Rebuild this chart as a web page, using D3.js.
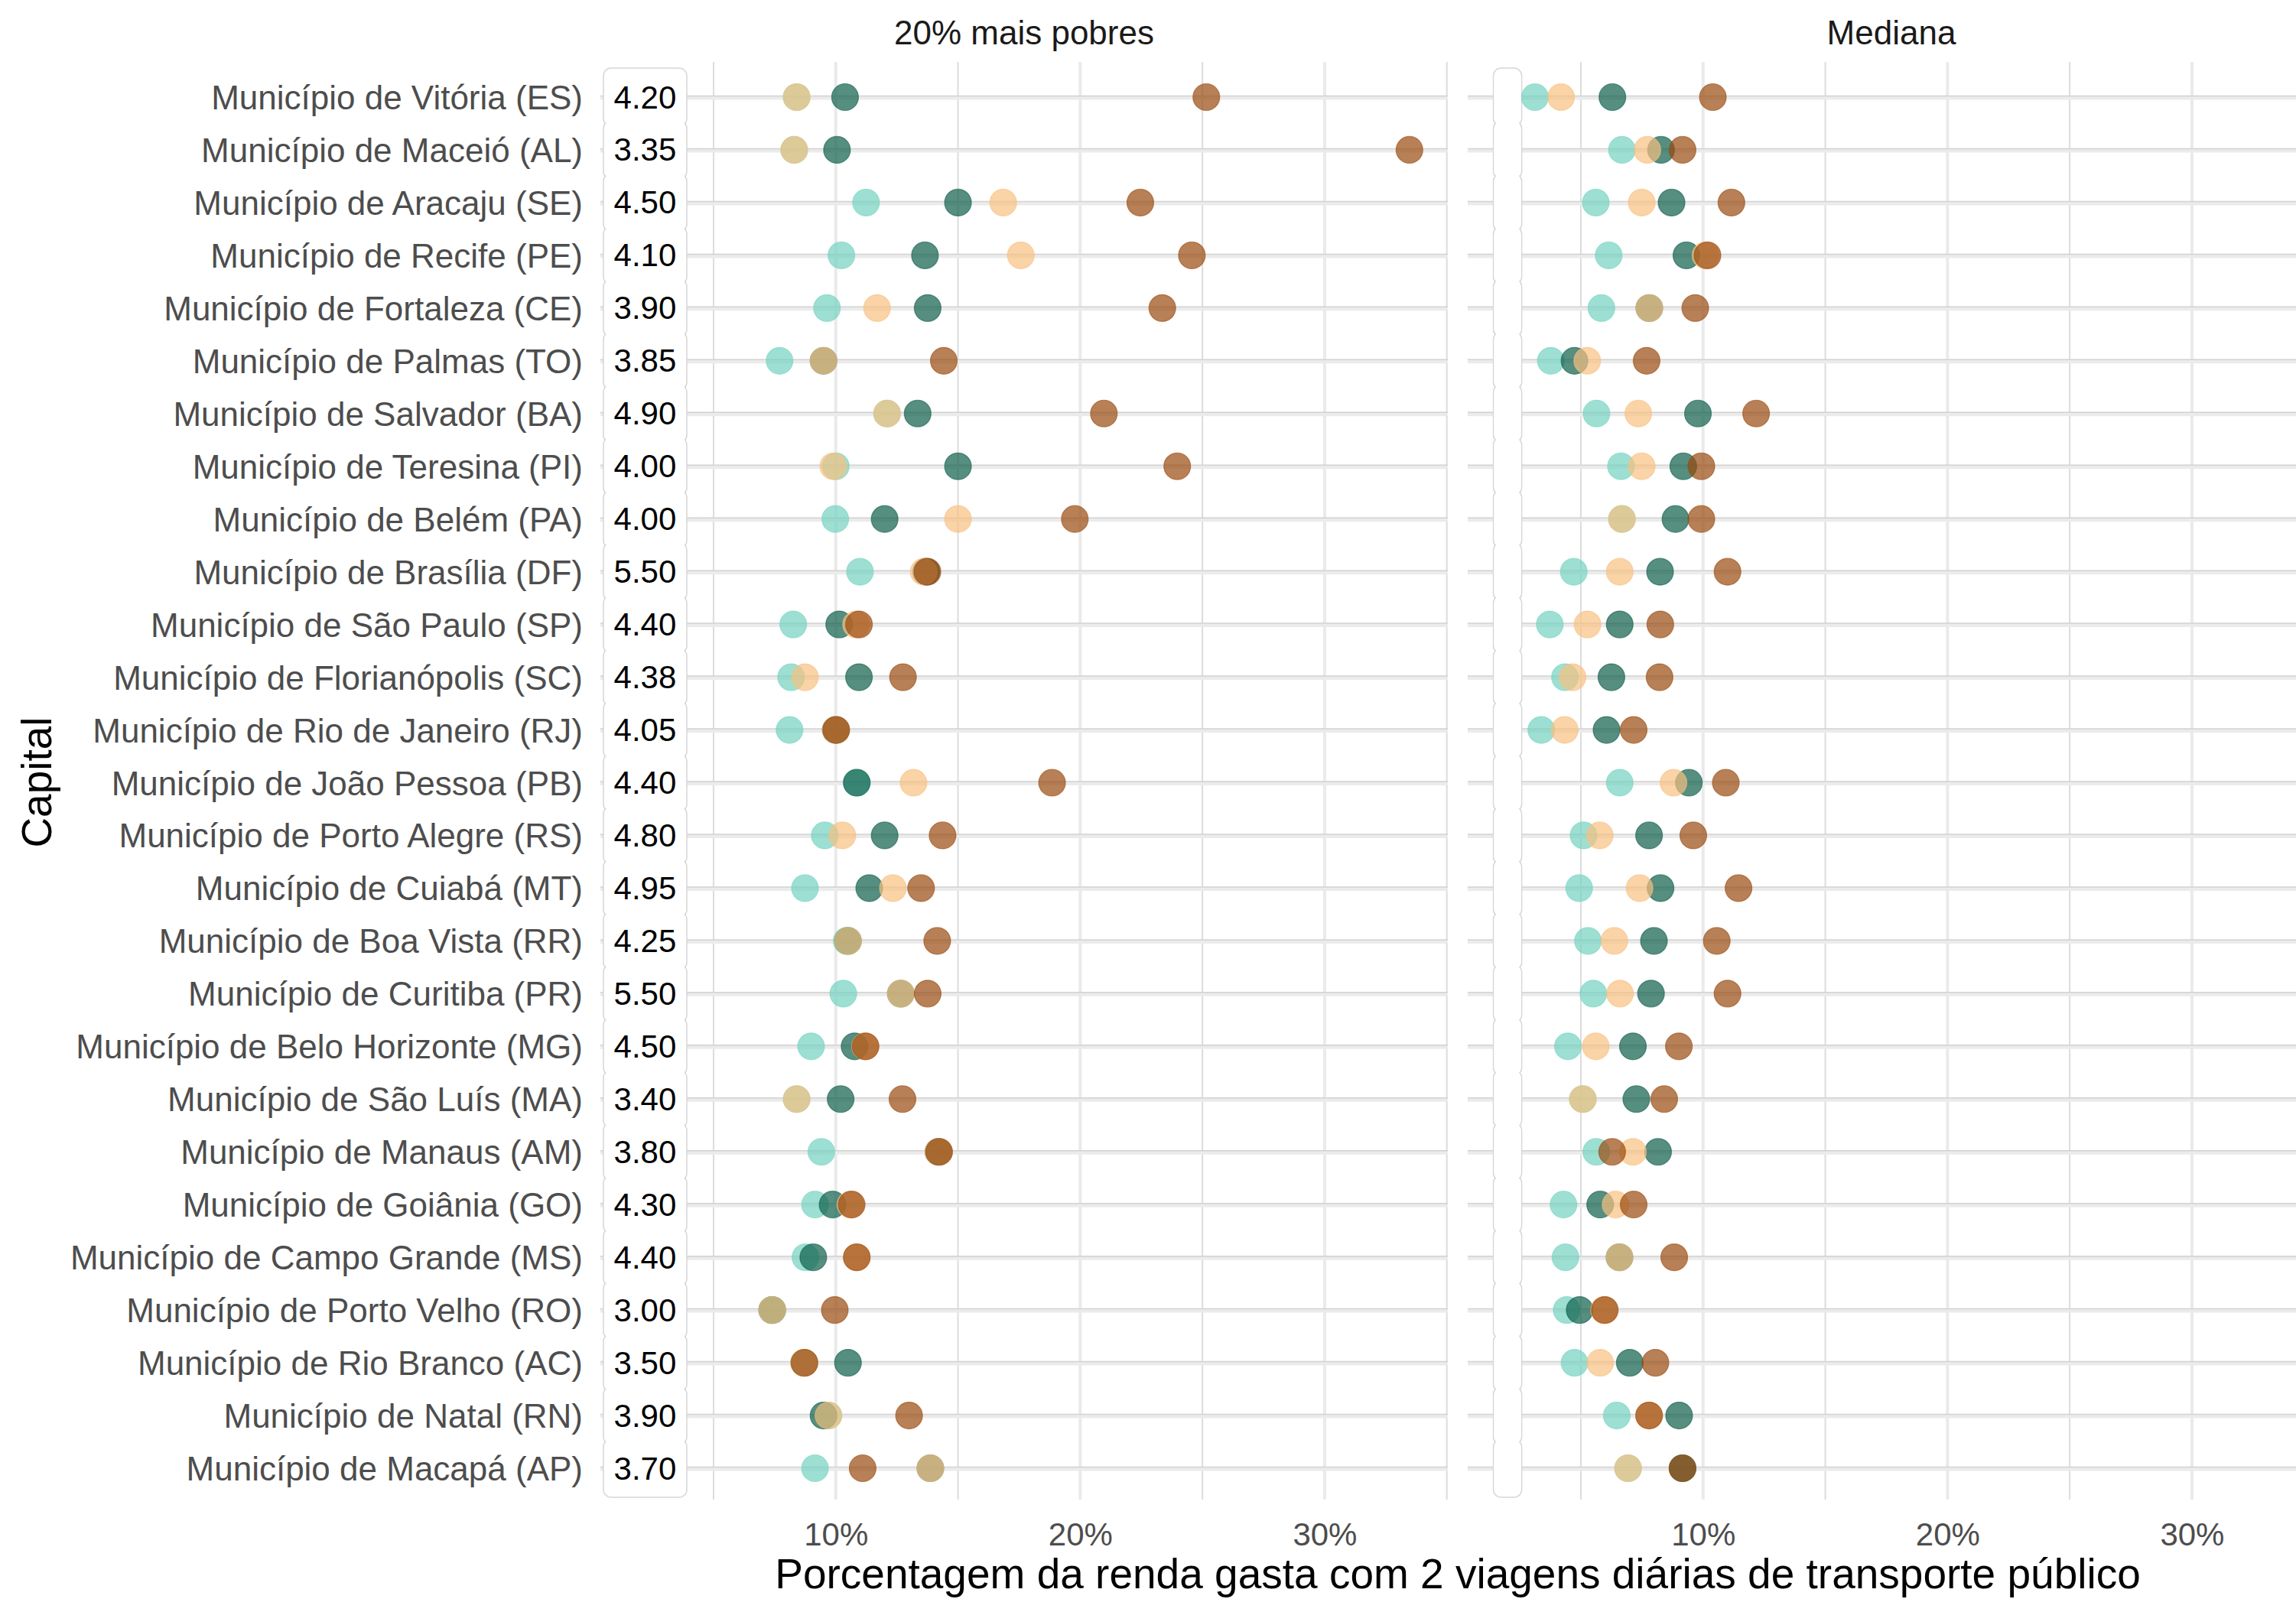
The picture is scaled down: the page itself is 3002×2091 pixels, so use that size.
<!DOCTYPE html>
<html><head><meta charset="utf-8">
<script src="https://cdn.jsdelivr.net/npm/d3@7"></script>
<style>body{margin:0;background:#fff} svg{display:block} text{font-family:"Liberation Sans",Arial,sans-serif}</style>
</head><body><svg id="c" width="3002" height="2091"></svg>
<script>
// ---------------- DATA ----------------
const capitals = [
  "Município de Vitória (ES)","Município de Maceió (AL)","Município de Aracaju (SE)","Município de Recife (PE)",
  "Município de Fortaleza (CE)","Município de Palmas (TO)","Município de Salvador (BA)","Município de Teresina (PI)",
  "Município de Belém (PA)","Município de Brasília (DF)","Município de São Paulo (SP)","Município de Florianópolis (SC)",
  "Município de Rio de Janeiro (RJ)","Município de João Pessoa (PB)","Município de Porto Alegre (RS)","Município de Cuiabá (MT)",
  "Município de Boa Vista (RR)","Município de Curitiba (PR)","Município de Belo Horizonte (MG)","Município de São Luís (MA)",
  "Município de Manaus (AM)","Município de Goiânia (GO)","Município de Campo Grande (MS)","Município de Porto Velho (RO)",
  "Município de Rio Branco (AC)","Município de Natal (RN)","Município de Macapá (AP)"
];
const tarifas = ["4.20","3.35","4.50","4.10","3.90","3.85","4.90","4.00","4.00","5.50","4.40","4.38","4.05","4.40",
                 "4.80","4.95","4.25","5.50","4.50","3.40","3.80","4.30","4.40","3.00","3.50","3.90","3.70"];
const facetTitles = ["20% mais pobres","Mediana"];

// 20% mais pobres (four series, % of income)
const pobresS1 = [8.4,8.3,11.24,10.23,9.64,7.7,12.1,10.0,9.98,10.99,8.26,8.17,8.11,10.86,9.55,8.74,10.45,10.31,8.99,8.4,9.41,9.15,8.76,7.4,8.7,9.7,9.15];
const pobresS2 = [10.38,10.05,15.0,13.65,13.76,9.5,13.35,15.0,12.0,13.7,10.14,10.95,10.0,10.86,12.0,11.37,10.5,12.66,10.77,10.2,14.2,9.87,9.08,7.4,10.5,9.5,13.87];
const pobresS3 = [8.4,8.3,16.85,17.57,11.69,9.5,12.1,9.9,15.0,13.6,10.83,8.74,10.0,13.18,10.27,12.34,10.5,12.66,11.2,8.4,14.2,10.6,10.86,7.4,8.7,9.7,13.87];
const pobresS4 = [25.16,33.47,22.46,24.57,23.36,14.42,20.97,23.97,19.78,13.75,10.95,12.75,10.02,18.85,14.37,13.49,14.15,13.76,11.22,12.73,14.23,10.65,10.86,9.96,8.72,13.0,11.1];

// Mediana
const medianaS1 = [3.12,6.68,5.61,6.14,5.84,3.77,5.64,6.64,6.68,4.71,3.73,4.35,3.38,6.59,5.11,4.93,5.29,5.51,4.47,5.08,5.63,4.29,4.37,4.42,4.74,6.47,6.93];
const medianaS2 = [6.29,8.28,8.71,9.32,7.8,4.74,9.79,9.19,8.87,8.24,6.59,6.25,6.05,9.42,7.79,8.26,7.99,7.87,7.13,7.27,8.16,5.79,6.58,4.95,7.0,9.02,9.16];
const medianaS3 = [4.19,7.72,7.49,10.1,7.8,5.26,7.35,7.49,6.68,6.59,5.27,4.66,4.34,8.79,5.77,7.4,6.37,6.6,5.61,5.08,7.13,6.42,6.58,5.95,5.79,7.8,6.93];
const medianaS4 = [10.4,9.16,11.16,10.18,9.68,7.69,12.17,9.93,9.93,11.0,8.25,8.22,7.16,10.93,9.6,11.45,10.56,11.0,9.01,8.41,6.28,7.16,8.82,5.98,8.05,7.79,9.16];

const xTicks = [10,20,30];
const xMinorTicks = [5,15,25,35];
const xDomain = [0.37,35.04];

// ---------------- STYLE ----------------
const seriesColors = ["#74D3C0","#0E5E4A","#F8C080","#9A4A0E"];
const panelW = 1108, gridTop = 81, gridBottom = 1961, boxH = 76;
const facets = [
  {title: facetTitles[0], left: 785, series:[pobresS1,pobresS2,pobresS3,pobresS4], showLabels:true, labelX:2.2, boxW:109},
  {title: facetTitles[1], left: 1919, series:[medianaS1,medianaS2,medianaS3,medianaS4], showLabels:false, labelX:2.0, boxW:37}
];

const svg = d3.select("#c");
svg.append("rect").attr("width",3002).attr("height",2091).attr("fill","#fff");
const y = d3.scalePoint().domain(capitals).range([127,1920]);

facets.forEach(f => {
  const x = d3.scaleLinear().domain(xDomain).range([f.left, f.left + panelW]);
  const g = svg.append("g");

  // vertical grid
  g.selectAll(".vmin").data(xMinorTicks).join("line")
    .attr("x1",d=>x(d)).attr("x2",d=>x(d)).attr("y1",gridTop).attr("y2",gridBottom)
    .attr("stroke","#DCDCDC").attr("stroke-width",2);
  g.selectAll(".vmaj").data(xTicks).join("line")
    .attr("x1",d=>x(d)).attr("x2",d=>x(d)).attr("y1",gridTop).attr("y2",gridBottom)
    .attr("stroke","#EAEAEA").attr("stroke-width",4);

  // horizontal grid
  g.selectAll(".hband").data(capitals).join("line")
    .attr("x1",f.left).attr("x2",f.left+panelW).attr("y1",d=>y(d)+1).attr("y2",d=>y(d)+1)
    .attr("stroke","#EBEBEB").attr("stroke-width",5);
  g.selectAll(".hline").data(capitals).join("line")
    .attr("x1",f.left).attr("x2",f.left+panelW).attr("y1",d=>y(d)-1.5).attr("y2",d=>y(d)-1.5)
    .attr("stroke","#D2D2D2").attr("stroke-width",1.5);

  // label boxes (tarifa): outlines first, then fills so the column looks continuous with notches
  const lx = x(f.labelX);
  g.selectAll(".boxo").data(capitals).join("rect")
    .attr("x",lx - f.boxW/2).attr("y",d=>y(d)-boxH/2).attr("width",f.boxW).attr("height",boxH)
    .attr("rx",10).attr("fill","#fff").attr("stroke","#D6D6D6").attr("stroke-width",1.5);
  g.selectAll(".boxf").data(capitals).join("rect")
    .attr("x",lx - f.boxW/2 + 1).attr("y",d=>y(d)-boxH/2+1).attr("width",f.boxW-2).attr("height",boxH-2)
    .attr("rx",9).attr("fill","#fff");
  if (f.showLabels) {
    g.selectAll(".lab").data(capitals).join("text")
      .attr("x",lx).attr("y",(d)=>y(d)).attr("text-anchor","middle").attr("dominant-baseline","central")
      .attr("font-size",42).attr("fill","#000").text((d,i)=>tarifas[i]);
  }

  // points
  f.series.forEach((vals,s) => {
    g.selectAll(".pt"+s).data(vals).join("circle")
      .attr("cx",d=>x(d)).attr("cy",(d,i)=>y(capitals[i])).attr("r",17.5)
      .attr("fill",seriesColors[s]).attr("fill-opacity",0.7)
      .attr("stroke",seriesColors[s]).attr("stroke-opacity",0.6).attr("stroke-width",1.2);
  });

  // x axis
  const ax = svg.append("g").attr("transform",`translate(0,${gridBottom})`)
    .call(d3.axisBottom(x).tickValues(xTicks).tickFormat(d=>d+"%").tickSize(0).tickPadding(30));
  ax.select(".domain").remove();
  ax.selectAll("text").attr("font-size",42).attr("fill","#4D4D4D").attr("font-family","Liberation Sans, Arial, sans-serif");

  // strip title
  svg.append("text").attr("x",f.left+panelW/2).attr("y",42).attr("text-anchor","middle")
    .attr("dominant-baseline","central").attr("font-size",44).attr("fill","#1A1A1A").text(f.title);
});

// y axis
const ay = svg.append("g").attr("transform","translate(785,0)")
  .call(d3.axisLeft(y).tickSize(0).tickPadding(23));
ay.select(".domain").remove();
ay.selectAll("text").attr("font-size",44).attr("fill","#4D4D4D").attr("dominant-baseline","central").attr("dy",null)
  .attr("font-family","Liberation Sans, Arial, sans-serif");

// axis titles
svg.append("text").attr("x",(785+1919+panelW)/2).attr("y",2058).attr("text-anchor","middle")
  .attr("dominant-baseline","central").attr("font-size",55).attr("fill","#000")
  .text("Porcentagem da renda gasta com 2 viagens diárias de transporte público");
svg.append("text").attr("transform","translate(48,1023) rotate(-90)").attr("text-anchor","middle")
  .attr("dominant-baseline","central").attr("font-size",55).attr("fill","#000").text("Capital");
</script></body></html>
